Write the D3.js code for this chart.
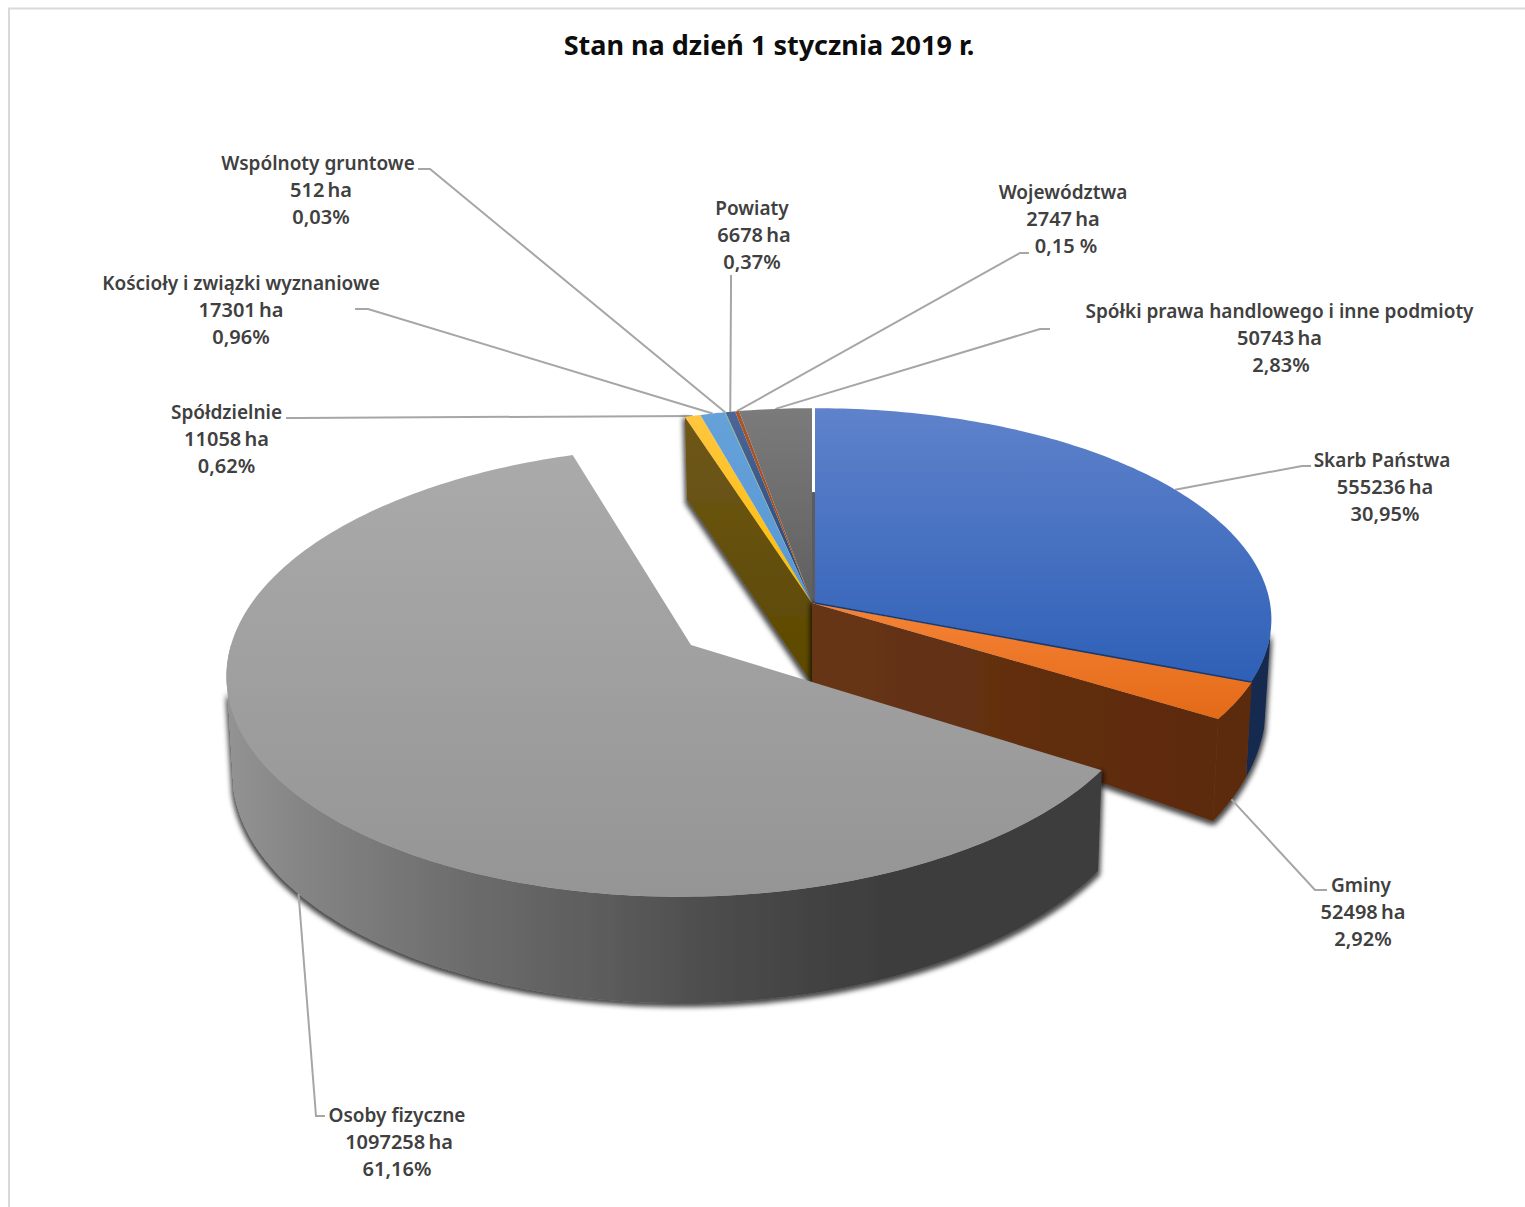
<!DOCTYPE html>
<html><head><meta charset="utf-8">
<script src="https://cdn.jsdelivr.net/npm/d3@7"></script>
<style>html,body{margin:0;padding:0;background:#fff}svg{display:block}
text{font-family:"Noto Sans",sans-serif}</style></head><body>
<svg id="c" width="1525" height="1207"></svg>
<script>
const titleText = "Stan na dzień 1 stycznia 2019 r.";
const categories = ["Skarb Państwa","Gminy","Osoby fizyczne","Spółdzielnie","Kościoły i związki wyznaniowe","Wspólnoty gruntowe","Powiaty","Województwa","Spółki prawa handlowego i inne podmioty"];
const hectares = [555236,52498,1097258,11058,17301,512,6678,2747,50743];
const percentLabels = ["30,95%","2,92%","61,16%","0,62%","0,96%","0,03%","0,37%","0,15 %","2,83%"];
const topColors = [["#5f82cb","#2e60b7"],["#f68336","#e36a17"],["#aaaaaa","#959595"],["#ffc640","#ffbd00"],["#66a1d9","#5798d3"],["#70ad47","#70ad47"],["#4c6698","#264478"],["#a9562a","#9e480e"],["#7b7b7b","#5f5f5f"]];

// layout (line centres, first baseline, leader elbow and end)
const labelLayout = [
 {x:[1382,1385,1385],y:467,el:[1302,466],end:[1311,466]},
 {x:[1361,1363,1363],y:892,el:[1315,890],end:[1327,890]},
 {x:[397,399,397],y:1122,el:[316,1116],end:[325,1116]},
 {x:[226.5,226.5,226.5],y:419,el:[298,418],end:[286,418]},
 {x:[241,241,241],y:290,el:[368,309],end:[355,309]},
 {x:[318,321,321],y:170,el:[430,169],end:[418,169]},
 {x:[752,754,752],y:215,el:[731,290],end:[731,275]},
 {x:[1063,1063,1066],y:199,el:[1020,253],end:[1029,253]},
 {x:[1279.5,1279.5,1281],y:318,el:[1040,329],end:[1050,329]}
];
const lineStep = 27.2;

const svg = d3.select("#c");
const defs = svg.append("defs");

// perspective disc geometries
const G = {
 main:{x0:812,y0:603,A:459,B:210,p:.078,s:0},
 mainB:{x0:812,y0:683,A:453,B:250,p:.078,s:0},
 blue:{x0:815,y0:603,A:455,B:210,p:.078,s:0},
 blueB:{x0:815,y0:683,A:450,B:250,p:.078,s:0},
 back:{x0:812,y0:603,A:445,B:210,p:.078,s:0},
 backB:{x0:812,y0:683,A:507,B:240,p:.257,s:0},
 gray:{x0:691,y0:645,A:460,B:222,p:.118,s:10},
 grayB:{x0:692,y0:740,A:455,B:232,p:.118,s:10}
};
const rad=d=>d*Math.PI/180;
function project(g,a,r=1){
  const u=Math.sin(a)*r, v=Math.cos(a)*r, w=1+g.p*v;
  return [g.x0+(g.A*u+g.s*v)/w, g.y0-g.B*v/w];
}
const arcPts=(g,a0,a1,n=120)=>d3.range(n+1).map(i=>project(g,a0+(a1-a0)*i/n));
const line=d3.line();
const closed=p=>line(p)+"Z";

const slices=d3.pie().sort(null).value(d=>d)(hectares);
const geomTop=i=>i===0?G.blue:i===1?G.main:i===2?G.gray:G.back;

function grad(id,c0,c1,stops){
  const g=defs.append("linearGradient").attr("id",id).attr("gradientUnits","userSpaceOnUse")
    .attr("x1",c0[0]).attr("y1",c0[1]).attr("x2",c1[0]).attr("y2",c1[1]);
  stops.forEach(s=>g.append("stop").attr("offset",s[0]).attr("stop-color",s[1]));
}
// shadow: slightly grown, blurred copy under the side walls
const f=defs.append("filter").attr("id","sh").attr("x","-20%").attr("y","-20%").attr("width","140%").attr("height","140%");
f.append("feMorphology").attr("in","SourceAlpha").attr("operator","dilate").attr("radius",2).attr("result","d");
f.append("feOffset").attr("in","d").attr("dy",2).attr("result","o");
f.append("feGaussianBlur").attr("in","o").attr("stdDeviation",2.6).attr("result","b");
f.append("feFlood").attr("flood-color","#000").attr("flood-opacity",.72).attr("result","c");
f.append("feComposite").attr("in","c").attr("in2","b").attr("operator","in").attr("result","s");
const fm=f.append("feMerge");
fm.append("feMergeNode").attr("in","s");
fm.append("feMergeNode").attr("in","SourceGraphic");

// face gradients
slices.forEach((s,i)=>{
  const g=geomTop(i);
  const ys=arcPts(g,s.startAngle,s.endAngle).map(p=>p[1]).concat(g.y0);
  const ext=d3.extent(ys);
  grad("top"+i,[0,ext[0]],[0,Math.max(ext[1],ext[0]+1)],[[0,topColors[i][0]],[1,topColors[i][1]]]);
});
grad("rimGray",[228,0],[1100,0],[[0,"#939393"],[.083,"#858585"],[.258,"#6e6e6e"],[.45,"#5a5a5a"],[.518,"#515151"],[.633,"#454545"],[.748,"#3e3e3e"],[1,"#3d3d3d"]]);
grad("wallBrown",[812,0],[1213,0],[[0,"#663619"],[.5,"#622f10"],[1,"#5c2a08"]]);
grad("wallGold",[0,417],[0,683],[[0,"#6e571a"],[1,"#5c4900"]]);

// frame
svg.append("path").attr("d","M9 1207V8.5H1525").attr("fill","none").attr("stroke","#d9d9d9").attr("stroke-width",2);

const leaders=svg.append("g");
const [sBlue,sOrange,sGray]=slices;
const layer=svg.append("g");

// cut wall of the small group
const a0=slices[3].startAngle;
layer.append("path").attr("filter","url(#sh)").attr("fill","url(#wallGold)")
  .attr("d",closed([[G.main.x0,G.main.y0],project(G.back,a0),project(G.backB,a0),[G.mainB.x0,G.mainB.y0]]));
const gapY=project(G.backB,0)[1];
layer.append("path").attr("fill","#5c5c5c")
  .attr("d",closed([[G.main.x0,G.main.y0],[G.blue.x0,G.blue.y0],[G.blue.x0,gapY],[G.main.x0,gapY]]));
// small slices
slices.slice(3).forEach((s,k)=>{
  layer.append("path").attr("fill",`url(#top${k+3})`)
    .attr("d",closed([[G.back.x0,G.back.y0],...arcPts(G.back,s.startAngle,s.endAngle,12)]));
});

// main rims share one shadow
const rims=layer.append("g").attr("filter","url(#sh)");
rims.append("path").attr("fill","#12294f")
  .attr("d",closed([...arcPts(G.blue,rad(98),sBlue.endAngle),...arcPts(G.blueB,sBlue.endAngle,rad(100))]));
rims.append("path").attr("fill","url(#wallBrown)")
  .attr("d",closed([...arcPts(G.main,sOrange.startAngle,sOrange.endAngle,30),...arcPts(G.mainB,sOrange.endAngle,sOrange.startAngle,30)]));
rims.append("path").attr("fill","url(#wallBrown)")
  .attr("d",closed([[G.main.x0,G.main.y0],project(G.main,sOrange.endAngle),project(G.mainB,sOrange.endAngle),[G.mainB.x0,G.mainB.y0]]));
// orange top
layer.append("path").attr("fill","url(#top1)")
  .attr("d",closed([[G.main.x0,G.main.y0],...arcPts(G.main,sOrange.startAngle,sOrange.endAngle,30)]));
// blue top
layer.append("path").attr("fill","url(#top0)")
  .attr("d",closed([[G.blue.x0,G.blue.y0],...arcPts(G.blue,sBlue.startAngle,sBlue.endAngle)]));
layer.append("path").attr("fill","none").attr("stroke","#1a3a70").attr("stroke-width",1.5)
  .attr("d",line([[G.blue.x0,G.blue.y0],project(G.blue,sBlue.endAngle)]));

// gray slice
layer.append("path").attr("filter","url(#sh)").attr("fill","url(#rimGray)")
  .attr("d",closed([...arcPts(G.gray,sGray.startAngle,rad(258)),...arcPts(G.grayB,rad(258),sGray.startAngle)]));
layer.append("path").attr("fill","url(#rimGray)")
  .attr("d",closed([...arcPts(G.gray,rad(258),rad(270),8),...arcPts(G.grayB,rad(258),rad(258),1)]));
layer.append("path").attr("fill","url(#top2)")
  .attr("d",closed([[G.gray.x0,G.gray.y0],...arcPts(G.gray,sGray.startAngle,sGray.endAngle,200)]));

// leaders: anchored on the slices through the same projection
slices.forEach((s,i)=>{
  const mid=(s.startAngle+s.endAngle)/2;
  const g=i===1?G.mainB:i===2?G.grayB:geomTop(i);
  const l=labelLayout[i];
  const where=(i===1||i===2)?svg:leaders;
  where.append("path").attr("fill","none").attr("stroke","#a6a6a6").attr("stroke-width",2)
    .attr("d",line([project(g,mid),l.el,l.end]));
});

// labels
const labels=svg.append("g").attr("fill","#404040").attr("font-weight",600).attr("text-anchor","middle");
categories.forEach((c,i)=>{
  const l=labelLayout[i];
  [c,`${hectares[i]} ha`,percentLabels[i]].forEach((t,k)=>{
    labels.append("text").attr("x",l.x[k]).attr("y",l.y+k*lineStep)
      .attr("font-size",k===0?19:20).attr("word-spacing",k===1?-2:0).text(t);
  });
});
svg.append("text").attr("x",769).attr("y",55).attr("text-anchor","middle").attr("font-size",27).attr("font-weight",700).attr("fill","#0d0d0d").text(titleText);
</script></body></html>
